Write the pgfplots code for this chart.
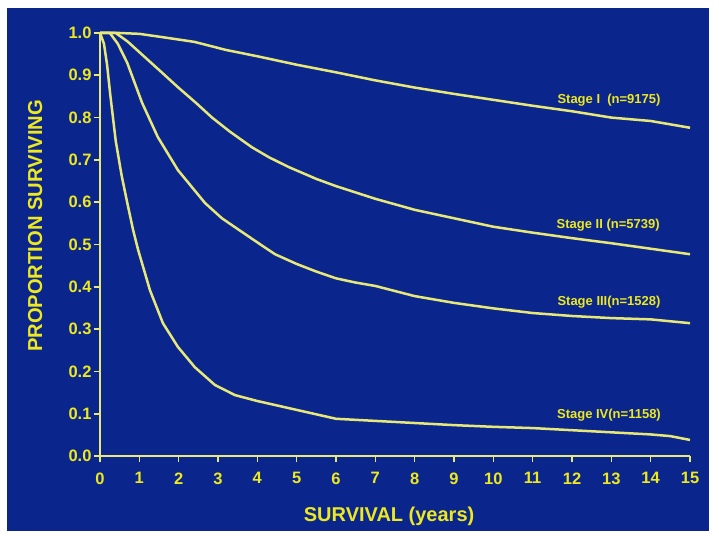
\documentclass[border=0pt]{standalone}
\usepackage{pgfplots}
\pgfplotsset{compat=1.18}
\usepackage{fontspec}
\setmainfont{Liberation Sans}
\definecolor{bgblue}{RGB}{10,38,140}
\definecolor{txtyellow}{RGB}{238,232,30}
\definecolor{lineyellow}{RGB}{232,232,120}
\pgfplotsset{kmcurve/.style={color=lineyellow, line width=2.5pt, line join=round, mark=none}}
\begin{document}
\begin{tikzpicture}
\fill[white] (-100pt,-85pt) rectangle (619pt,456pt);
\fill[bgblue] (-93pt,-75pt) rectangle (609pt,448pt);
\begin{axis}[
  at={(0pt,0pt)}, anchor=south west,
  scale only axis, width=590pt, height=423pt,
  xmin=0, xmax=15, ymin=0, ymax=1,
  axis x line=bottom, axis y line=left,
  axis line style={-, lineyellow, line width=2pt},
  xtick={0,1,...,15},
  ytick={0,0.1,...,1.0},
  tick align=outside,
  major tick length=6pt,
  tick style={lineyellow, line width=1.6pt},
  /pgf/number format/assume math mode=true,
  yticklabel style={/pgf/number format/fixed, /pgf/number format/fixed zerofill, /pgf/number format/precision=1, xshift=1pt},
  xticklabel style={yshift=-7pt},
  ticklabel style={font=\fontsize{16.5}{16.5}\selectfont\bfseries, text=txtyellow},
  xlabel={SURVIVAL (years)},
  ylabel={PROPORTION SURVIVING},
  every axis x label/.style={at={(axis description cs:0.49,-0.142)}, anchor=center, font=\fontsize{20}{20}\selectfont\bfseries, text=txtyellow},
  every axis y label/.style={at={(axis description cs:-0.110,0.544)}, anchor=center, rotate=90, font=\fontsize{20.2}{20.2}\selectfont\bfseries, text=txtyellow},
  clip=false,
]
% Stage I
\addplot[kmcurve] coordinates {(0,1) (0.5,1.0) (1,0.998) (1.6,0.99) (2.4,0.979) (3.2,0.96) (4,0.945) (5,0.925) (6,0.907) (7,0.888) (8,0.871) (9,0.856) (10,0.842) (11,0.828) (12,0.815) (13,0.80) (14,0.792) (15,0.776)};
% Stage II
\addplot[kmcurve] coordinates {(0,1) (0.4,1.0) (0.7,0.98) (1.14,0.943) (1.58,0.906) (1.98,0.872) (2.45,0.834) (2.85,0.80) (3.3,0.767) (3.86,0.73) (4.3,0.706) (4.8,0.683) (5.5,0.655) (6,0.638) (7,0.608) (8,0.582) (9,0.562) (10,0.542) (11,0.528) (12,0.515) (13,0.503) (14,0.49) (15,0.477)};
% Stage III
\addplot[kmcurve] coordinates {(0,1) (0.25,1.0) (0.45,0.975) (0.69,0.93) (1.07,0.835) (1.47,0.754) (1.98,0.676) (2.67,0.598) (3.1,0.562) (3.43,0.541) (4,0.505) (4.45,0.477) (5,0.454) (5.5,0.436) (6,0.42) (6.5,0.41) (7,0.402) (7.5,0.39) (8,0.378) (9,0.362) (10,0.349) (11,0.338) (12,0.331) (13,0.326) (14,0.323) (15,0.314)};
% Stage IV
\addplot[kmcurve] coordinates {(0,1) (0.1,0.975) (0.18,0.925) (0.26,0.855) (0.4,0.745) (0.55,0.663) (0.69,0.60) (0.84,0.535) (0.97,0.487) (1.27,0.392) (1.6,0.314) (1.98,0.258) (2.41,0.21) (2.92,0.168) (3.43,0.144) (4,0.13) (5,0.109) (6,0.088) (7,0.083) (8,0.078) (9,0.073) (10,0.069) (11,0.066) (12,0.061) (13,0.056) (14,0.051) (14.5,0.047) (15,0.038)};
\node[font=\fontsize{13}{13}\selectfont\bfseries, text=txtyellow] at (axis cs:12.94,0.842) {Stage I\ \ (n=9175)};
\node[font=\fontsize{13}{13}\selectfont\bfseries, text=txtyellow] at (axis cs:12.92,0.546) {Stage II (n=5739)};
\node[font=\fontsize{13}{13}\selectfont\bfseries, text=txtyellow] at (axis cs:12.94,0.364) {Stage III(n=1528)};
\node[font=\fontsize{13}{13}\selectfont\bfseries, text=txtyellow] at (axis cs:12.94,0.097) {Stage IV(n=1158)};
\end{axis}
\end{tikzpicture}
\end{document}
